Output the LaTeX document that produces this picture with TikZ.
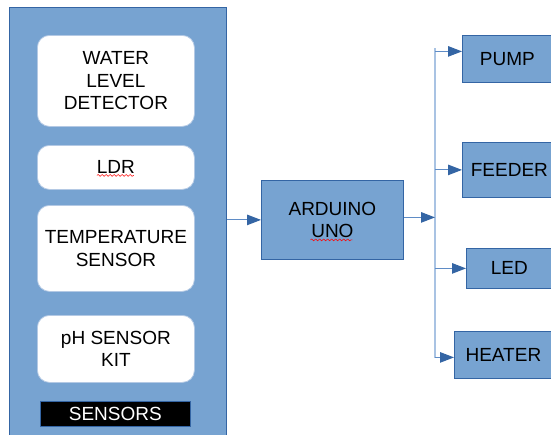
\documentclass[tikz,border=0pt]{standalone}
\usepackage{fontspec}
\setmainfont{Liberation Sans}
\usetikzlibrary{arrows.meta,decorations.pathmorphing}
\definecolor{panelblue}{HTML}{77A3D1}
\definecolor{edgeblue}{HTML}{3465A4}
\definecolor{busblue}{HTML}{A9C3E3}
\definecolor{stemblue}{HTML}{5F8CC6}
\definecolor{wborder}{HTML}{B4C9E4}
\tikzset{
  txt/.style={font=\fontsize{19}{22.5}\selectfont, align=center, inner sep=0pt},
  panelbox/.style={draw=edgeblue, line width=0.8pt, fill=panelblue, anchor=north west, inner sep=0pt},
  whitebox/.style={txt, draw=wborder, line width=0.8pt, fill=white, rounded corners=12pt, anchor=north west, minimum width=157pt},
  bluebox/.style={txt, draw=edgeblue, line width=0.8pt, fill=panelblue, anchor=north west},
  labelbox/.style={txt, draw=edgeblue, line width=0.6pt, fill=black, text=white, anchor=north west, minimum width=150pt, minimum height=25pt},
  arr/.style={draw=stemblue, line width=1pt, -{Triangle[length=14pt,width=10.5pt,color=edgeblue]}},
  busline/.style={draw=busblue, line width=1.6pt},
  squig/.style={draw=red, line width=0.5pt, decorate, decoration={snake, amplitude=0.9pt, segment length=4pt}}
}
\begin{document}
\begin{tikzpicture}[x=1pt, y=-1pt]
\useasboundingbox (0,0) rectangle (551,434);
\clip (0,0) rectangle (551,434);
\fill[white] (0,0) rectangle (551,434);
% sensor panel
\node[panelbox, minimum width=217pt, minimum height=440pt] (panel) at (9,7) {};
\node[whitebox, minimum height=91pt] (wld) at (37,35) {WATER\\LEVEL\\DETECTOR};
\node[whitebox, minimum height=44pt] (ldr) at (37,145) {LDR};
\node[whitebox, minimum height=86pt] (temp) at (37,205) {TEMPERATURE\\SENSOR};
\node[whitebox, minimum height=67pt] (ph) at (37,315) {pH SENSOR\\KIT};
\node[labelbox] (sens) at (40,401) {SENSORS};
% controller
\node[bluebox, minimum width=142pt, minimum height=79pt] (ard) at (261,180) {ARDUINO\\UNO};
% outputs
\node[bluebox, minimum width=90pt, minimum height=47pt] (pump) at (462,35) {PUMP};
\node[bluebox, minimum width=94pt, minimum height=55pt] (feeder) at (462,142) {FEEDER};
\node[bluebox, minimum width=86pt, minimum height=40pt] (led) at (466,248) {LED};
\node[bluebox, minimum width=98pt, minimum height=47pt] (heater) at (454,331) {HEATER};
% bus
\coordinate (jn) at (435,217);
\coordinate (bustop) at (435,48);
\coordinate (busbot) at (435,358);
\draw[busline] (bustop) -- (busbot);
% connectors
\draw[arr] (ard.west -| panel.east) -- (ard.west);
\draw[arr] ([yshift=2.5pt]ard.east) -- ([yshift=2.5pt]ard.east -| jn);
\draw[arr] ([yshift=7.5pt]pump.west -| jn) -- ([yshift=7.5pt]pump.west);
\draw[arr] (feeder.west -| jn) -- (feeder.west);
\draw[arr] (led.west -| jn) -- (led.west);
\draw[arr] ([yshift=-2.5pt]heater.west -| jn) -- ([yshift=-2.5pt]heater.west);
% spell-check squiggles
\draw[squig] ([shift={(-19,8)}]ldr.center) -- ([shift={(18,8)}]ldr.center);
\draw[squig] ([shift={(-22,20)}]ard.center) -- ([shift={(20,20)}]ard.center);
\end{tikzpicture}
\end{document}
